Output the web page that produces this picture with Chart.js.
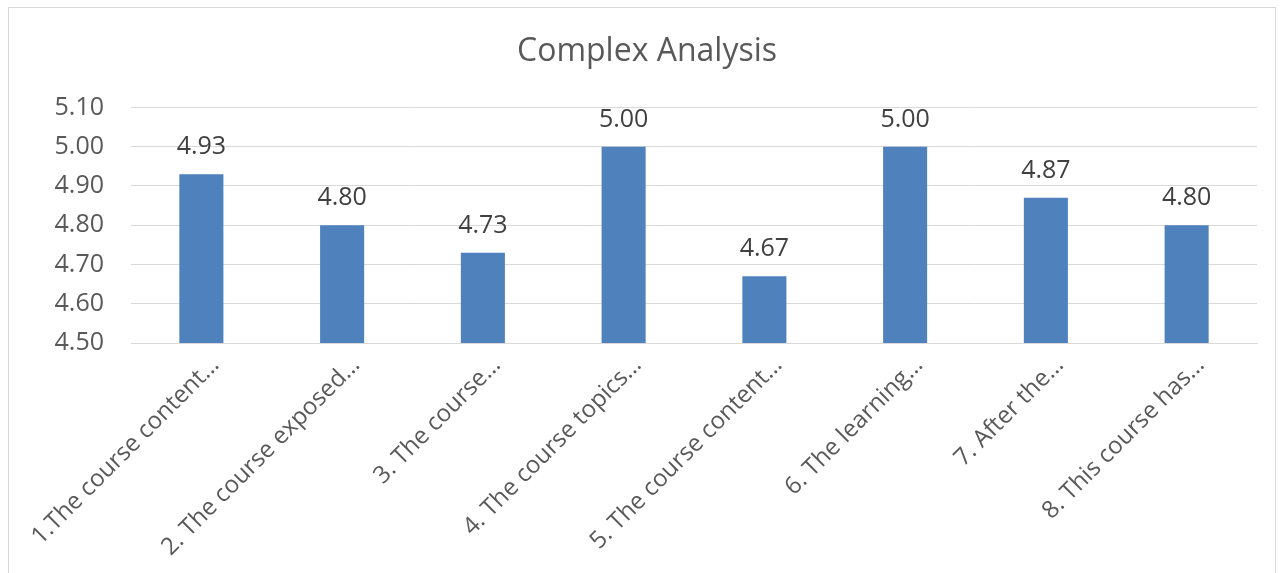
<!DOCTYPE html>
<html>
<head>
<meta charset="utf-8">
<script src="https://cdn.jsdelivr.net/npm/chart.js@4.4.1/dist/chart.umd.min.js"></script>
<style>
  html, body { margin: 0; padding: 0; background: #ffffff; overflow: hidden; }
  #frame { position: absolute; left: 8px; top: 7px; width: 1266px; height: 570px; border: 1px solid #d9d9d9; background: #fff; }
  #wrap { position: absolute; left: 0; top: 0; width: 1266px; height: 566px; }
</style>
</head>
<body>
<div id="frame"><div id="wrap"><canvas id="c"></canvas></div></div>
<script>
const chartTitle = "Complex Analysis";
const categories = [
  "1.The course content…",
  "2. The course exposed…",
  "3. The course…",
  "4. The course topics…",
  "5. The course content…",
  "6. The learning…",
  "7. After the…",
  "8. This course has…"
];
const values = [4.93, 4.80, 4.73, 5.00, 4.67, 5.00, 4.87, 4.80];
const yMin = 4.5, yMax = 5.1, yStep = 0.1;

const FONT = "'Open Sans', 'DejaVu Sans', sans-serif";
const TEXT = "#595959";

const dataLabels = {
  id: 'dataLabels',
  afterDatasetsDraw(chart) {
    const ctx = chart.ctx;
    const meta = chart.getDatasetMeta(0);
    ctx.save();
    ctx.font = "25px " + FONT;
    ctx.fillStyle = "#404040";
    ctx.textAlign = "center";
    ctx.textBaseline = "alphabetic";
    meta.data.forEach((bar, i) => {
      ctx.fillText(values[i].toFixed(2), bar.x, bar.y - 20);
    });
    ctx.restore();
  }
};

new Chart(document.getElementById('c'), {
  type: 'bar',
  data: {
    labels: categories,
    datasets: [{
      data: values,
      backgroundColor: '#4f81bd',
      borderWidth: 0,
      categoryPercentage: 1.0,
      barPercentage: 0.313
    }]
  },
  options: {
    responsive: true,
    maintainAspectRatio: false,
    animation: false,
    layout: { padding: { left: 28, right: 18, top: 0, bottom: 0 } },
    plugins: {
      legend: { display: false },
      tooltip: { enabled: false },
      title: {
        display: true,
        text: chartTitle,
        color: TEXT,
        font: { family: FONT, size: 32, weight: 'normal', lineHeight: 1.2 },
        padding: { top: 25, bottom: 36 }
      }
    },
    scales: {
      y: {
        min: yMin, max: yMax,
        border: { display: false },
        grid: { color: '#d9d9d9', lineWidth: 1, drawTicks: false },
        ticks: {
          stepSize: yStep,
          padding: 27,
          color: TEXT,
          font: { family: FONT, size: 25 },
          callback: v => Number(v).toFixed(2)
        },
        afterFit(scale) { scale.width = 94; scale.paddingTop = 0; scale.paddingBottom = 0; }
      },
      x: {
        border: { display: true, color: '#d9d9d9', width: 1 },
        grid: { display: false, drawTicks: false },
        ticks: {
          minRotation: 45, maxRotation: 45,
          autoSkip: false,
          padding: 8,
          labelOffset: 14,
          color: TEXT,
          font: { family: FONT, size: 24 }
        },
        afterFit(scale) { scale.height = 231; scale.paddingLeft = 0; scale.paddingRight = 0; }
      }
    }
  },
  plugins: [dataLabels]
});
</script>
</body>
</html>
